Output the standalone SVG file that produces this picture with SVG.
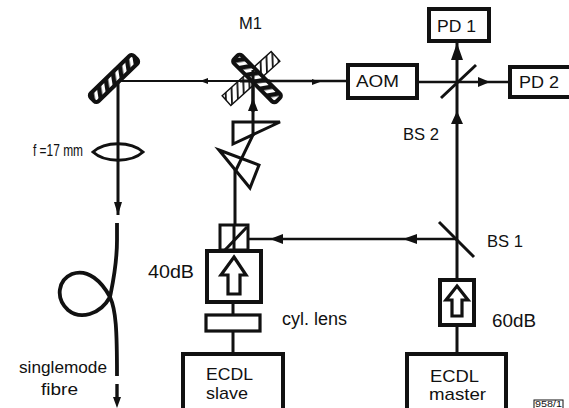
<svg xmlns="http://www.w3.org/2000/svg" width="569" height="408" viewBox="0 0 569 408">
<defs>
<pattern id="hatch" width="8" height="8" patternUnits="userSpaceOnUse" patternTransform="rotate(35)"><rect width="8" height="8" fill="#fff"/><rect width="4.500" height="8" fill="#111"/></pattern>
<pattern id="hatch2" width="6" height="6" patternUnits="userSpaceOnUse" patternTransform="rotate(40)"><rect width="6" height="6" fill="#fff"/><rect width="1.800" height="6" fill="#111"/></pattern>
</defs>
<style>
text{font-family:"Liberation Sans",Arial,sans-serif;fill:#111;font-size:17px}
.b{fill:#fff;stroke:#111;stroke-width:4}
.t{fill:none;stroke:#111;stroke-width:3}
.l{fill:none;stroke:#111;stroke-width:3}
.a{fill:#111;stroke:none}
.o{fill:#fff;stroke:#111;stroke-width:3.200}
.m{stroke:#111;stroke-width:4}
</style>
<rect width="569" height="408" fill="#fff"/>
<g id="M1-hatched"><rect x="218" y="72" width="66" height="13" fill="url(#hatch2)" stroke="#111" stroke-width="1.400" transform="rotate(-42 251 78.500)"/></g>
<g id="connectors">
<path class="l" d="M118 81V215M235 170V226M253 81V135L236 170M234 226V258M233 302V315M233 331V353M457 41V279M457 325V353" />
<path class="l" style="stroke-width:2" d="M118 81H253"/>
<path class="l" style="stroke-width:2.500" d="M248 239H457M253 81H347M417 82H510"/>
<path class="a" d="M118 215L114 202H122ZM200 81L208 78V84ZM253 98L248 111H258ZM320 82L312 79V85ZM490 82L478 77V87ZM457 43L451 60H463ZM457 111L451 124H463ZM270 239L283 234V244ZM403 239L417 234V244Z"/>
<path d="M117 223V240C117 265 113 282 110 297C100 315 80 320 68 310C55 298 58 280 72 274C88 268 102 282 110 297C116 310 117 330 117 376" fill="none" stroke="#111" stroke-width="3.800"/>
<path d="M117 384V400" fill="none" stroke="#111" stroke-width="3.400"/>
<path class="a" d="M117 408L113 397H121Z"/>
</g>
<g id="mirror-left"><rect x="84" y="73" width="60" height="11" rx="3" fill="url(#hatch)" class="m" transform="rotate(-44 114 78.500)"/></g>
<g id="M1">
<rect x="227" y="73" width="60" height="11" rx="3" fill="url(#hatch)" class="m" transform="rotate(45 257 78.500)"/>
<path class="l" d="M253 70V112M240 81H270"/>
<text x="239" y="29" textLength="23" lengthAdjust="spacingAndGlyphs">M1</text>
</g>
<g id="lens"><path d="M93 152C105 141 131 141 143 152C131 163 105 163 93 152Z" fill="none" stroke="#111" stroke-width="3"/><text x="33" y="156" textLength="50" lengthAdjust="spacingAndGlyphs" style="font-size:17px">f =17 mm</text></g>
<g id="prism-1"><path d="M233 122H280L233 144Z" fill="none" stroke="#111" stroke-width="3"/></g>
<g id="prism-2"><path d="M219 150L259 165L250 188Z" fill="none" stroke="#111" stroke-width="3"/></g>
<g id="AOM"><rect class="b" x="348" y="65" width="69" height="33"/><text x="356" y="87" textLength="43" lengthAdjust="spacingAndGlyphs">AOM</text></g>
<g id="PD1"><rect class="b" x="429" y="9" width="60" height="32"/><text x="437" y="32" textLength="39" lengthAdjust="spacingAndGlyphs">PD 1</text></g>
<g id="PD2"><rect class="b" x="510" y="67" width="61" height="30"/><text x="519" y="88" textLength="40" lengthAdjust="spacingAndGlyphs">PD 2</text></g>
<g id="BS2"><path class="t" d="M441 98L476 65"/><text x="403" y="140" textLength="36" lengthAdjust="spacingAndGlyphs">BS 2</text></g>
<g id="BS1"><path class="t" d="M439 222L474 257"/><text x="487" y="247" textLength="36" lengthAdjust="spacingAndGlyphs">BS 1</text></g>
<g id="polarizer"><rect x="220" y="225" width="28" height="25" fill="none" stroke="#111" stroke-width="3"/><path class="t" d="M225 250L247 227"/></g>
<g id="isolator-40dB"><rect class="b" x="207" y="251" width="54" height="51"/><path class="o" d="M234 257L246 275H240V294H228V275H221Z"/><text x="148" y="278" textLength="46" lengthAdjust="spacingAndGlyphs" style="font-size:18px">40dB</text></g>
<g id="cyl-lens"><rect x="206" y="315" width="54" height="16" fill="#fff" stroke="#111" stroke-width="3.200"/><text x="282" y="325" textLength="65" lengthAdjust="spacingAndGlyphs" style="font-size:18px">cyl. lens</text></g>
<g id="isolator-60dB"><rect class="b" x="440" y="280" width="34" height="45"/><path class="o" d="M457 286L468 300H462V316H452V300H446Z"/><text x="492" y="327" textLength="44" lengthAdjust="spacingAndGlyphs" style="font-size:18px">60dB</text></g>
<g id="ECDL-slave"><rect class="b" x="183" y="354" width="100" height="60"/><text x="206" y="380" textLength="47" lengthAdjust="spacingAndGlyphs">ECDL</text><text x="206" y="399" textLength="42" lengthAdjust="spacingAndGlyphs">slave</text></g>
<g id="ECDL-master"><rect class="b" x="407" y="354" width="99" height="60"/><text x="430" y="382" textLength="49" lengthAdjust="spacingAndGlyphs">ECDL</text><text x="429" y="400" textLength="57" lengthAdjust="spacingAndGlyphs">master</text></g>
<g id="labels"><text x="19" y="373" textLength="88" lengthAdjust="spacingAndGlyphs" style="font-size:17px">singlemode</text><text x="41" y="395" textLength="37" lengthAdjust="spacingAndGlyphs" style="font-size:17px">fibre</text><rect x="534" y="400" width="29" height="9" fill="#fff" stroke="#111" stroke-width="1"/><text x="535" y="407" textLength="27" lengthAdjust="spacingAndGlyphs" style="font-size:9px">958/1</text></g>
</svg>
